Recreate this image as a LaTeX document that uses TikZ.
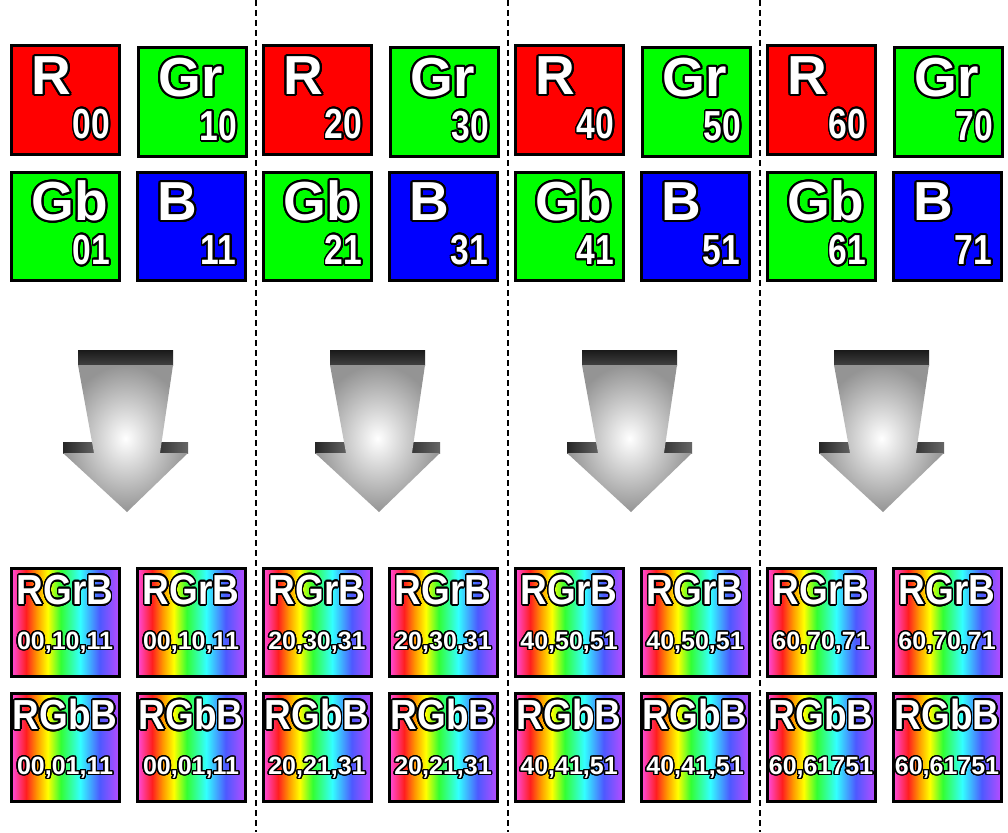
\documentclass[tikz,border=0pt]{standalone}
\usepackage{fontspec}
\setmainfont{Liberation Sans}
\usepackage{graphicx}
\usepackage[copies]{contour}
\contournumber{24}
\usetikzlibrary{calc}
\definecolor{rbA}{rgb}{1,0.3,0.9}
\definecolor{rbB}{rgb}{1,0.12,0.12}
\definecolor{rbC}{rgb}{1,0.6,0}
\definecolor{rbD}{rgb}{1,1,0}
\definecolor{rbE}{rgb}{0.2,1,0.2}
\definecolor{rbF}{rgb}{0.2,1,1}
\definecolor{rbG}{rgb}{0.3,0.35,1}
\definecolor{rbH}{rgb}{0.72,0.3,1}
\definecolor{pxgreen}{rgb}{0,1,0}
\pgfdeclarehorizontalshading{rainbow}{100bp}{color(0bp)=(rbA); color(25bp)=(rbA); color(32bp)=(rbB); color(37bp)=(rbC); color(42bp)=(rbD); color(48bp)=(rbE); color(57bp)=(rbF); color(66bp)=(rbG); color(75bp)=(rbH); color(100bp)=(rbH)}
\tikzset{
  sq/.style={draw=black, line width=3pt, minimum size=108pt, inner sep=0pt},
  big/.style={text=white, font=\fontsize{55}{55}\selectfont\bfseries, inner sep=0pt},
  num/.style={text=white, font=\fontsize{42}{42}\selectfont\bfseries, inner sep=0pt},
  rbt/.style={text=white, font=\fontsize{42}{42}\selectfont\bfseries, inner sep=0pt},
  rbn/.style={text=white, font=\fontsize{25}{25}\selectfont\bfseries, inner sep=0pt},
  sep/.style={line width=1.5pt, dash pattern=on 6pt off 4pt},
}
\newcommand{\biglab}[1]{\contourlength{2pt}\contour{black}{#1}}
\newcommand{\numlab}[1]{\contourlength{2pt}\scalebox{0.8}[1]{\contour{black}{#1}}}
\newcommand{\rblab}[1]{\contourlength{1.6pt}\scalebox{0.88}[1]{\contour{black}{#1}}}
\newcommand{\rbnum}[1]{\contourlength{1.4pt}\contour{black}{#1}}
\begin{document}
\begin{tikzpicture}[x=1pt, y=-1pt]
\useasboundingbox (0,0) rectangle (1008,832);
\fill[white] (0,0) rectangle (1008,832);
% separators
\foreach \k/\xx in {1/256, 2/508, 3/760}{
  \coordinate (s\k t) at (\xx,0);
  \coordinate (s\k b) at (\xx,832);
  \draw[sep] (s\k t) -- (s\k b);
}
\foreach \c/\a/\b/\lastlab in {0/0/1/{00,01,11}, 1/2/3/{20,21,31}, 2/4/5/{40,41,51}, 3/6/7/{60,61751}}{
  % Bayer squares
  \node[sq, fill=red] (r\c) at ({65+252*\c},100) {};
  \node[sq, fill=pxgreen] (gr\c) at ({192+252*\c},102) {};
  \node[sq, fill=pxgreen] (gb\c) at ({65+252*\c},226) {};
  \node[sq, fill=blue] (b\c) at ({191+252*\c},226) {};
  \node[big, anchor=base west] (rl\c) at ($(r\c.north west)+(22,50)$) {\biglab{R}};
  \node[big, anchor=base west] (grl\c) at ($(gr\c.north west)+(22,50)$) {\biglab{Gr}};
  \node[big, anchor=base west] (gbl\c) at ($(gb\c.north west)+(22,50)$) {\biglab{Gb}};
  \node[big, anchor=base west] (bl\c) at ($(b\c.north west)+(22,50)$) {\biglab{B}};
  \node[num, anchor=base east] (rn\c) at ($(r\c.south east)+(-10,-17)$) {\numlab{\a0}};
  \node[num, anchor=base east] (grn\c) at ($(gr\c.south east)+(-10,-17)$) {\numlab{\b0}};
  \node[num, anchor=base east] (gbn\c) at ($(gb\c.south east)+(-10,-17)$) {\numlab{\a1}};
  \node[num, anchor=base east] (bn\c) at ($(b\c.south east)+(-10,-17)$) {\numlab{\b1}};
  % arrow
  \begin{scope}[xshift=\c*252pt]
    \shade[left color=black!85, right color=black!60] (63,442) rectangle (96,453);
    \shade[left color=black!80, right color=black!60] (157,442) rectangle (188,453);
    \shade[top color=black!90, bottom color=black!75] (78,350) rectangle (173,365);
    \shade[inner color=white, outer color=black!42] (78,365) -- (173,365) -- (160,453) -- (188,453) -- (127,512) -- (63,453) -- (94,453) -- cycle;
  \end{scope}
  % result squares
  \node[sq, shading=rainbow] (p\c) at ({65+252*\c},622) {};
  \node[sq, shading=rainbow] (q\c) at ({191+252*\c},622) {};
  \node[sq, shading=rainbow] (u\c) at ({65+252*\c},747) {};
  \node[sq, shading=rainbow] (v\c) at ({191+252*\c},747) {};
  \foreach \n in {p,q}{
    \node[rbt, anchor=base] (\n t\c) at ($(\n\c.north)+(0,38)$) {\rblab{RGrB}};
    \node[rbn, anchor=base] (\n n\c) at ($(\n\c.north)+(0,83)$) {\rbnum{\a0,\b0,\b1}};
  }
  \foreach \n in {u,v}{
    \node[rbt, anchor=base] (\n t\c) at ($(\n\c.north)+(0,38)$) {\rblab{RGbB}};
    \node[rbn, anchor=base] (\n n\c) at ($(\n\c.north)+(0,83)$) {\rbnum{\lastlab}};
  }
}
\end{tikzpicture}
\end{document}
